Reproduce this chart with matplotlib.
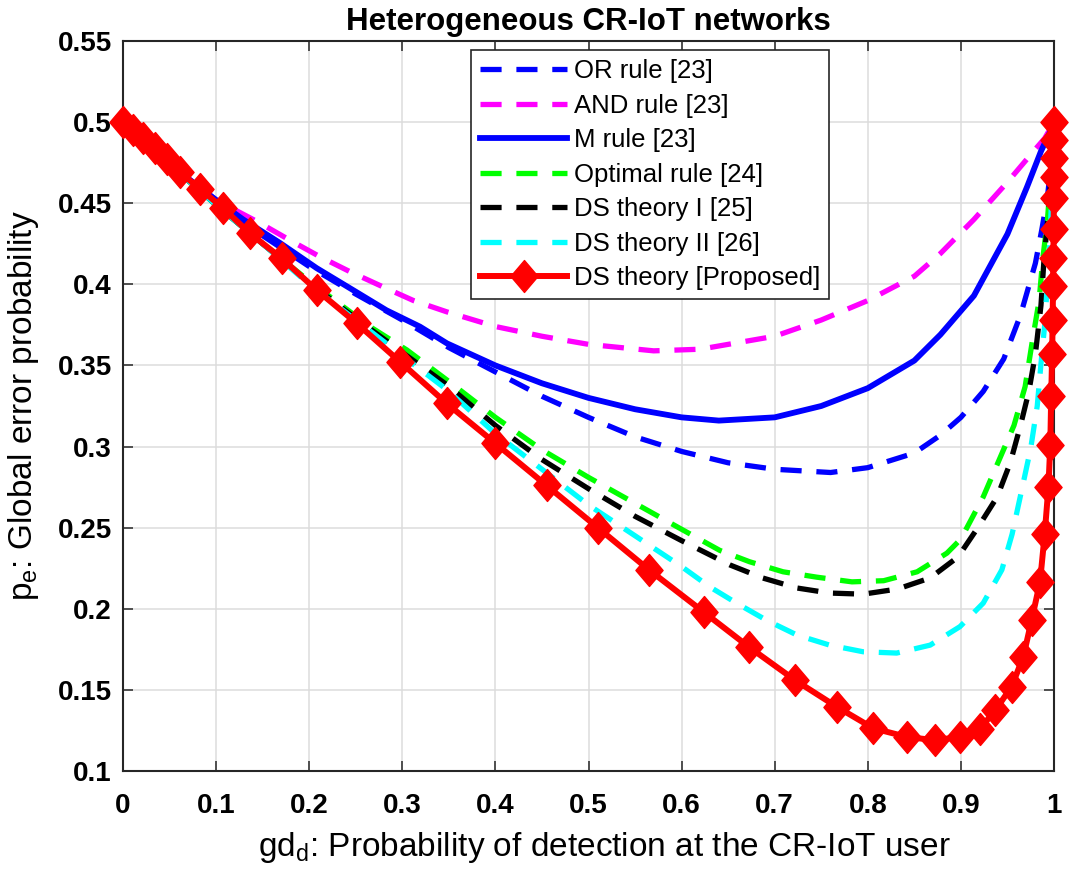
import matplotlib
matplotlib.use("Agg")
import matplotlib.pyplot as plt
from matplotlib.path import Path

plt.rcParams['font.family'] = ['Liberation Sans', 'DejaVu Sans']
plt.rcParams['mathtext.fontset'] = 'custom'
plt.rcParams['mathtext.rm'] = 'Liberation Sans'
plt.rcParams['mathtext.it'] = 'Liberation Sans'

# ---------------- data ----------------
or_x = [0, 0.05, 0.1, 0.15, 0.2, 0.25, 0.3, 0.35, 0.4, 0.45, 0.5, 0.55, 0.6, 0.65, 0.7, 0.76,
        0.8, 0.85, 0.878, 0.9, 0.924, 0.946, 0.964, 0.98, 0.987, 0.993, 0.997, 1.0]
or_y = [0.5, 0.474, 0.451, 0.43, 0.411, 0.394, 0.378, 0.361, 0.346, 0.331, 0.318, 0.306, 0.297,
        0.29, 0.286, 0.284, 0.287, 0.296, 0.307, 0.318, 0.334, 0.354, 0.381, 0.413, 0.434, 0.454,
        0.475, 0.5]

and_x = [0, 0.05, 0.1, 0.147, 0.179, 0.2116, 0.2438, 0.279, 0.312, 0.348, 0.4, 0.45, 0.5, 0.57,
         0.62, 0.7, 0.75, 0.8, 0.85, 0.878, 0.914, 0.95, 0.978, 0.99, 1.0]
and_y = [0.5, 0.474, 0.452, 0.4378, 0.4273, 0.417, 0.4078, 0.3985, 0.390, 0.383, 0.374, 0.368,
         0.363, 0.359, 0.360, 0.368, 0.378, 0.39, 0.405, 0.419, 0.44, 0.463, 0.482, 0.49, 0.5]

m_x = [0, 0.05, 0.1, 0.129, 0.1686, 0.208, 0.247, 0.283, 0.319, 0.348, 0.4, 0.45, 0.5, 0.55,
       0.6, 0.64, 0.7, 0.75, 0.8, 0.85, 0.878, 0.914, 0.95, 0.971, 0.986, 0.995, 1.0]
m_y = [0.5, 0.474, 0.452, 0.440, 0.4255, 0.410, 0.3965, 0.384, 0.3739, 0.3636, 0.350, 0.339,
       0.330, 0.323, 0.318, 0.316, 0.318, 0.325, 0.336, 0.353, 0.369, 0.393, 0.431, 0.46, 0.482,
       0.493, 0.5]

opt_x = [0, 0.05, 0.1, 0.15, 0.2, 0.265, 0.305, 0.348, 0.4, 0.45, 0.5, 0.55, 0.6, 0.641, 0.673,
         0.709, 0.745, 0.783, 0.817, 0.853, 0.885, 0.9, 0.924, 0.942, 0.957, 0.969, 0.977, 0.984,
         0.988, 0.993, 0.997, 1.0]
opt_y = [0.5, 0.474, 0.449, 0.425, 0.402, 0.374, 0.3595, 0.341, 0.318, 0.298, 0.281, 0.265,
         0.249, 0.236, 0.229, 0.2228, 0.2195, 0.2166, 0.2173, 0.2228, 0.2343, 0.243, 0.269, 0.293,
         0.313, 0.337, 0.366, 0.39, 0.416, 0.44, 0.47, 0.5]

ds1_x = [0, 0.05, 0.1, 0.15, 0.2, 0.25, 0.3, 0.348, 0.4, 0.45, 0.5, 0.55, 0.6, 0.652, 0.687,
         0.724, 0.759, 0.795, 0.832, 0.867, 0.897, 0.917, 0.939, 0.953, 0.964, 0.973, 0.98, 0.986,
         0.989, 0.994, 0.998, 1.0]
ds1_y = [0.5, 0.474, 0.449, 0.425, 0.401, 0.379, 0.358, 0.338, 0.313, 0.292, 0.274, 0.257, 0.242,
         0.227, 0.219, 0.2128, 0.2097, 0.209, 0.2122, 0.219, 0.232, 0.249, 0.269, 0.29, 0.313,
         0.334, 0.357, 0.387, 0.413, 0.445, 0.475, 0.5]

ds2_x = [0, 0.05, 0.1, 0.15, 0.2, 0.25, 0.3, 0.348, 0.4, 0.45, 0.5, 0.55, 0.6, 0.63, 0.659, 0.691,
         0.724, 0.759, 0.795, 0.831, 0.867, 0.899, 0.924, 0.944, 0.955, 0.966, 0.975, 0.982, 0.986,
         0.99, 0.995, 0.998, 1.0]
ds2_y = [0.5, 0.474, 0.449, 0.425, 0.4, 0.378, 0.356, 0.335, 0.308, 0.286, 0.264, 0.245, 0.226,
         0.2136, 0.2035, 0.193, 0.1838, 0.1776, 0.1735, 0.1727, 0.1776, 0.189, 0.2035, 0.224, 0.246,
         0.275, 0.299, 0.325, 0.351, 0.375, 0.42, 0.46, 0.5]

prop_x = [0, 0.011, 0.022, 0.034, 0.047, 0.061, 0.0827, 0.1077, 0.1364, 0.1705, 0.208, 0.251,
          0.2975, 0.3477, 0.400, 0.455, 0.510, 0.565, 0.6237, 0.672, 0.7218, 0.7666, 0.806, 0.842,
          0.872, 0.899, 0.9205, 0.937, 0.9545, 0.967, 0.976, 0.985, 0.990, 0.994, 0.996, 0.997,
          0.998, 0.9985, 0.999, 0.9993, 0.9996, 0.9998, 0.9999, 1.0, 1.0, 1.0]
prop_y = [0.5, 0.495, 0.49, 0.484, 0.477, 0.469, 0.459, 0.4468, 0.4314, 0.416, 0.3965, 0.376,
          0.3523, 0.3266, 0.302, 0.276, 0.25, 0.224, 0.198, 0.1766, 0.156, 0.1396, 0.1263, 0.121,
          0.119, 0.121, 0.126, 0.1375, 0.152, 0.1704, 0.193, 0.2166, 0.246, 0.275, 0.301, 0.331,
          0.357, 0.378, 0.399, 0.416, 0.434, 0.453, 0.466, 0.478, 0.489, 0.5]

labels = ['OR rule [23]', 'AND rule [23]', 'M rule [23]', 'Optimal rule [24]',
          'DS theory I [25]', 'DS theory II [26]', 'DS theory [Proposed]']
xticks = [0, 0.1, 0.2, 0.3, 0.4, 0.5, 0.6, 0.7, 0.8, 0.9, 1]
xticklabels = ['0', '0.1', '0.2', '0.3', '0.4', '0.5', '0.6', '0.7', '0.8', '0.9', '1']
yticks = [0.1, 0.15, 0.2, 0.25, 0.3, 0.35, 0.4, 0.45, 0.5, 0.55]
yticklabels = ['0.1', '0.15', '0.2', '0.25', '0.3', '0.35', '0.4', '0.45', '0.5', '0.55']

# ---------------- figure ----------------
fig = plt.figure(figsize=(10.73, 8.76), dpi=100)
ax = fig.add_axes([123/1073, 1 - 771/876, 931/1073, 730/876])

lw_d = 3.8
dash = (4.0, 2.8)
ax.plot(or_x, or_y, color=(0, 0, 1), lw=lw_d, dashes=dash, label=labels[0], dash_capstyle='butt')
ax.plot(and_x, and_y, color=(1, 0, 1), lw=lw_d, dashes=dash, label=labels[1], dash_capstyle='butt')
ax.plot(m_x, m_y, color=(0, 0, 1), lw=4.2, ls='-', label=labels[2])
ax.plot(opt_x, opt_y, color=(0, 1, 0), lw=lw_d, dashes=dash, label=labels[3], dash_capstyle='butt')
ax.plot(ds1_x, ds1_y, color=(0, 0, 0), lw=lw_d, dashes=dash, label=labels[4], dash_capstyle='butt')
ax.plot(ds2_x, ds2_y, color=(0, 1, 1), lw=lw_d, dashes=dash, label=labels[5], dash_capstyle='butt')

diamond = Path([(0, 1), (0.85, 0), (0, -1), (-0.85, 0), (0, 1)],
               [Path.MOVETO, Path.LINETO, Path.LINETO, Path.LINETO, Path.CLOSEPOLY])
ax.plot(prop_x, prop_y, color=(1, 0, 0), lw=4.3, marker=diamond, markersize=23,
        markerfacecolor=(1, 0, 0), markeredgecolor=(1, 0, 0), markeredgewidth=1,
        label=labels[6], clip_on=False, zorder=5)

ax.set_xlim(0, 1)
ax.set_ylim(0.1, 0.55)
ax.set_xticks(xticks)
ax.set_xticklabels(xticklabels)
ax.set_yticks(yticks)
ax.set_yticklabels(yticklabels)

ax.grid(True, color='#dcdcdc', lw=1.1)
ax.set_axisbelow(True)
for s in ax.spines.values():
    s.set_color('#262626')
    s.set_linewidth(1.5)
ax.tick_params(direction='in', length=7, width=1.1, color='#262626',
               top=True, right=True, labelsize=20)
ax.tick_params(axis='x', pad=16)
ax.tick_params(axis='y', pad=8)
for t in ax.get_xticklabels() + ax.get_yticklabels():
    t.set_fontweight('bold')

ax.set_xlabel(r'gd$_\mathrm{d}$: Probability of detection at the CR-IoT user',
              fontsize=24, labelpad=8)
ax.xaxis.label.set_x(0.5166)
ax.set_ylabel(r'p$_\mathrm{e}$: Global error probability', fontsize=24, labelpad=12)
ax.set_title('Heterogeneous CR-IoT networks', fontsize=22.5, fontweight='bold', pad=8)

leg = ax.legend(loc='upper left', bbox_to_anchor=((471 - 123) / 931, 1 - (50 - 41) / 730),
                borderaxespad=0, fontsize=18.5, handlelength=3.4, handletextpad=0.25,
                labelspacing=0.41, borderpad=0.35, fancybox=False, framealpha=1,
                edgecolor='#262626')
leg.get_frame().set_linewidth(1.2)

fig.savefig('out.png', dpi=100)
